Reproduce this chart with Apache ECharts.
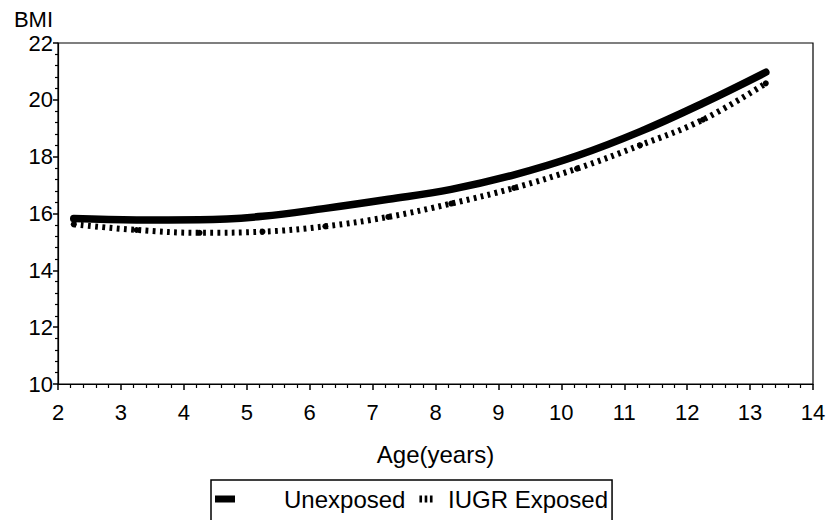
<!DOCTYPE html>
<html>
<head>
<meta charset="utf-8">
<script src="https://cdn.jsdelivr.net/npm/echarts@6/dist/echarts.min.js"></script>
<style>
html,body{margin:0;padding:0;background:#fff;}
#chart{width:829px;height:520px;}
</style>
</head>
<body>
<div id="chart"></div>
<script>
var ages = [2.25, 3.25, 4.25, 5.25, 6.25, 7.25, 8.25, 9.25, 10.25, 11.25, 12.25, 13.25];
var unexposed = [15.82, 15.77, 15.78, 15.9, 16.18, 16.5, 16.85, 17.36, 18.03, 18.88, 19.88, 20.97];
var iugrExposed = [15.62, 15.42, 15.32, 15.36, 15.55, 15.88, 16.35, 16.9, 17.58, 18.4, 19.3, 20.58];
var xTicks = [2, 3, 4, 5, 6, 7, 8, 9, 10, 11, 12, 13, 14];
var yTicks = [10, 12, 14, 16, 18, 20, 22];

var FONT = 'Liberation Sans';
var chart = echarts.init(document.getElementById('chart'), null, {renderer: 'svg'});

function pairs(xs, ys) { return xs.map(function (x, i) { return [x, ys[i]]; }); }

chart.setOption({
  animation: false,
  backgroundColor: '#fff',
  grid: {left: 58, right: 16, top: 43, bottom: 136, show: true, borderColor: '#000', borderWidth: 1.2, backgroundColor: 'transparent'},
  xAxis: {
    type: 'value', min: xTicks[0], max: xTicks[xTicks.length - 1], interval: 1,
    name: 'Age(years)', nameLocation: 'middle', nameGap: 58,
    nameTextStyle: {fontFamily: FONT, fontSize: 24, color: '#000'},
    axisLine: {show: true, lineStyle: {color: '#000', width: 1.2}},
    axisTick: {show: true, length: 6, lineStyle: {color: '#000', width: 1.5}},
    minorTick: {show: true, splitNumber: 5, length: 4, lineStyle: {color: '#000', width: 1.2}},
    splitLine: {show: false},
    axisLabel: {fontFamily: FONT, fontSize: 22, color: '#000', margin: 17}
  },
  yAxis: {
    type: 'value', min: yTicks[0], max: yTicks[yTicks.length - 1], interval: 2,
    name: 'BMI', nameLocation: 'end', nameGap: 13,
    nameTextStyle: {fontFamily: FONT, fontSize: 22, color: '#000', align: 'right', padding: [0, 5, 0, 0]},
    axisLine: {show: true, lineStyle: {color: '#000', width: 1.2}},
    axisTick: {show: true, length: 5, lineStyle: {color: '#000', width: 1.5}},
    minorTick: {show: true, splitNumber: 5, length: 3, lineStyle: {color: '#000', width: 1.2}},
    splitLine: {show: false},
    axisLabel: {fontFamily: FONT, fontSize: 22, color: '#000', margin: 5}
  },
  legend: {
    left: 211, top: 480,
    orient: 'horizontal',
    padding: [7, 4, 30, 4],
    itemGap: 14,
    borderColor: '#000', borderWidth: 1.5,
    textStyle: {fontFamily: FONT, fontSize: 24, color: '#000'},
    data: [
      {name: 'Unexposed', icon: 'rect', itemStyle: {color: '#000'}, textStyle: {padding: [0, 0, 0, 44]}},
      {name: 'IUGR Exposed', icon: 'path://M0,0h3v8h-3z M6,0h3v8h-3z M12,0h3v8h-3z', itemStyle: {color: '#000'}, textStyle: {padding: [0, 0, 0, 7]}}
    ],
    itemWidth: 20, itemHeight: 7
  },
  series: [
    {
      name: 'Unexposed', type: 'line', smooth: 0.4,
      data: pairs(ages, unexposed),
      showSymbol: false, symbol: 'none',
      lineStyle: {color: '#000', width: 7.5, cap: 'round', join: 'round'},
      itemStyle: {color: '#000'}
    },
    {
      name: 'IUGR Exposed', type: 'line', smooth: 0.4,
      data: pairs(ages, iugrExposed),
      showSymbol: true, symbol: 'circle', symbolSize: 6,
      lineStyle: {color: '#000', width: 6, type: [2.8, 4.4], cap: 'butt'},
      itemStyle: {color: '#000', borderWidth: 0}
    }
  ]
});
</script>
</body>
</html>
